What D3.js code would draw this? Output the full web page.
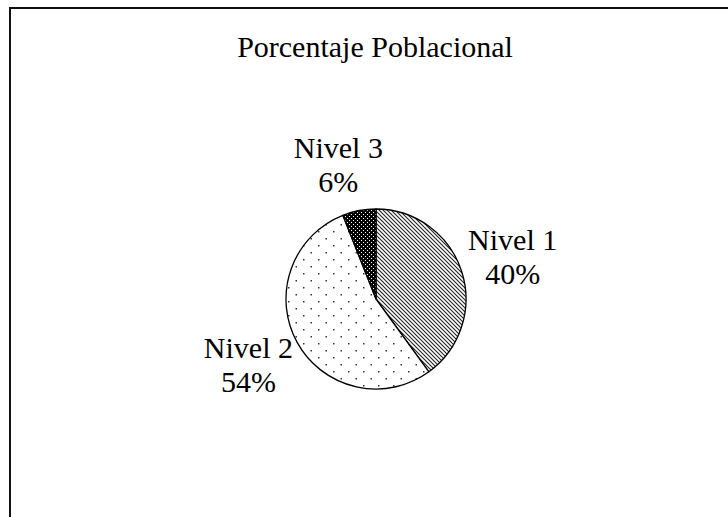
<!DOCTYPE html>
<html>
<head>
<meta charset="utf-8">
<script src="https://cdn.jsdelivr.net/npm/d3@7"></script>
<style>
  body { margin: 0; background: #fff; }
  svg text { font-family: "Liberation Serif", "Times New Roman", serif; fill: #000; }
</style>
</head>
<body>
<div id="chart"></div>
<script>
'use strict';

var title = 'Porcentaje Poblacional';
var categories = ['Nivel 1', 'Nivel 2', 'Nivel 3'];
var percents = [40, 54, 6];
var patternIds = ['hatch', 'dots', 'darkdots'];

var width = 728, height = 517;
var cx = 376, cy = 299, radius = 90;
var fontSize = 30, lineGap = 34;

var svg = d3.select('#chart').append('svg')
    .attr('width', width)
    .attr('height', height);

// fill patterns, like the old b/w office charts
var defs = svg.append('defs');

var hatch = defs.append('pattern')
    .attr('id', 'hatch')
    .attr('patternUnits', 'userSpaceOnUse')
    .attr('width', 4).attr('height', 4);
hatch.append('rect').attr('width', 4).attr('height', 4).attr('fill', '#fff');
hatch.append('path')
    .attr('d', 'M0,0 L4,4 M-1,3 L1,5 M3,-1 L5,1')
    .attr('stroke', '#222')
    .attr('stroke-width', 1.1);

var dots = defs.append('pattern')
    .attr('id', 'dots')
    .attr('patternUnits', 'userSpaceOnUse')
    .attr('width', 15).attr('height', 14);
dots.append('rect').attr('width', 15).attr('height', 14).attr('fill', '#fff');
[[2, 2], [9.5, 9]].forEach(function(p) {
    dots.append('rect')
        .attr('x', p[0]).attr('y', p[1])
        .attr('width', 1.5).attr('height', 1.5)
        .attr('fill', '#333');
});

var darkdots = defs.append('pattern')
    .attr('id', 'darkdots')
    .attr('patternUnits', 'userSpaceOnUse')
    .attr('width', 4).attr('height', 4);
darkdots.append('rect').attr('width', 4).attr('height', 4).attr('fill', '#000');
[[1, 1], [3, 3]].forEach(function(p) {
    darkdots.append('rect')
        .attr('x', p[0]).attr('y', p[1])
        .attr('width', 1).attr('height', 1)
        .attr('fill', '#fff');
});

// chart frame (runs off the right and bottom edge)
svg.append('rect')
    .attr('x', 10).attr('y', 8)
    .attr('width', 740).attr('height', 530)
    .attr('fill', 'none')
    .attr('stroke', '#111')
    .attr('stroke-width', 2);

svg.append('text')
    .attr('x', 375).attr('y', 57)
    .attr('text-anchor', 'middle')
    .attr('font-size', fontSize + 'px')
    .text(title);

var pie = d3.pie().sort(null).value(function(d) { return d; });
var arcs = pie(percents);
var arc = d3.arc().innerRadius(0).outerRadius(radius);

var g = svg.append('g').attr('transform', 'translate(' + cx + ',' + cy + ')');

g.selectAll('.slice')
    .data(arcs)
    .enter()
    .append('path')
    .attr('class', 'slice')
    .attr('d', arc)
    .attr('fill', function(d, i) { return 'url(#' + patternIds[i] + ')'; })
    .attr('stroke', '#000')
    .attr('stroke-width', 1.3)
    .attr('stroke-linejoin', 'round');

// labels sit just outside the rim, pushed out by part of their box
var labels = g.selectAll('.label')
    .data(arcs)
    .enter()
    .append('text')
    .attr('class', 'label')
    .attr('text-anchor', 'middle')
    .attr('font-size', fontSize + 'px');

labels.append('tspan')
    .attr('x', 0).attr('y', -lineGap / 2 + 10)
    .text(function(d, i) { return categories[i]; });
labels.append('tspan')
    .attr('x', 0).attr('y', lineGap / 2 + 10)
    .text(function(d) { return d.data + '%'; });

labels.attr('transform', function(d) {
    var a = (d.startAngle + d.endAngle) / 2;
    var sx = Math.sin(a), sy = -Math.cos(a);
    var halfW = this.getBBox().width / 2;
    var x = (radius + 8) * sx + Math.sign(sx) * Math.sqrt(Math.abs(sx)) * halfW;
    var y = (radius + 8) * sy + sy * (lineGap + 4);
    return 'translate(' + x + ',' + y + ')';
});
</script>
</body>
</html>
